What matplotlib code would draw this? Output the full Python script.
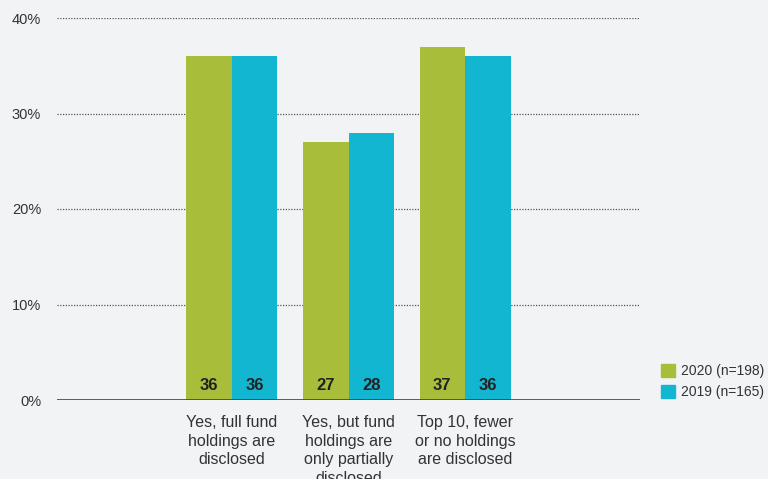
import matplotlib
matplotlib.use("Agg")
import matplotlib.pyplot as plt
from matplotlib.patches import Patch

categories = ["", "Yes, full fund\nholdings are\ndisclosed", "Yes, but fund\nholdings are\nonly partially\ndisclosed",
              "Top 10, fewer\nor no holdings\nare disclosed", ""]
series_names = ["2020 (n=198)", "2019 (n=165)"]
values_2020 = [None, 36, 27, 37, None]
values_2019 = [None, 36, 28, 36, None]
yticks = [0, 10, 20, 30, 40]

plt.rcParams['font.family'] = ["Liberation Sans", "DejaVu Sans"]

bg = "#f2f3f5"
green = "#a8bd39"
cyan = "#12b6d0"
txt = "#333333"

fig = plt.figure(figsize=(7.68, 4.79), dpi=100, facecolor=bg)
ax = fig.add_axes([57/768, 1-400/479, (640-57)/768, (400-18)/479])
ax.set_facecolor(bg)

w = 0.39
xs = list(range(len(categories)))
for i, (a, b) in enumerate(zip(values_2020, values_2019)):
    if a is not None:
        ax.bar(i - w/2, a, width=w, color=green, zorder=3)
        ax.text(i - w/2, 0.75, str(a), ha="center", va="bottom", fontsize=12, fontweight="bold", color="#222222", zorder=4)
    if b is not None:
        ax.bar(i + w/2, b, width=w, color=cyan, zorder=3)
        ax.text(i + w/2, 0.75, str(b), ha="center", va="bottom", fontsize=12, fontweight="bold", color="#222222", zorder=4)

ax.set_xlim(-0.5, len(categories) - 0.5)
ax.set_ylim(0, 40)
ax.set_yticks(yticks)
ax.set_yticklabels([f"{t}%" for t in yticks], fontsize=10.5, color=txt)
ax.set_xticks(xs)
ax.set_xticklabels(categories, fontsize=11.5, color=txt, linespacing=1.3)
ax.tick_params(axis="both", length=0)
ax.tick_params(axis="x", pad=11)
ax.tick_params(axis="y", pad=11.5)
for s in ax.spines.values():
    s.set_visible(False)
ax.grid(axis="y", linestyle=(0, (1, 1.2)), color="#555555", linewidth=0.9, zorder=0)
ax.axhline(0, color="#444444", linewidth=1.2, zorder=5)

handles = [Patch(color=green), Patch(color=cyan)]
fig.legend(handles, series_names, loc="upper left", bbox_to_anchor=(661/768, 1-364/479), frameon=False,
           fontsize=10, handlelength=1.0, handleheight=1.1, handletextpad=0.45, labelspacing=0.45,
           labelcolor=txt, borderpad=0, borderaxespad=0)

fig.savefig("out.png", dpi=100, facecolor=bg)
